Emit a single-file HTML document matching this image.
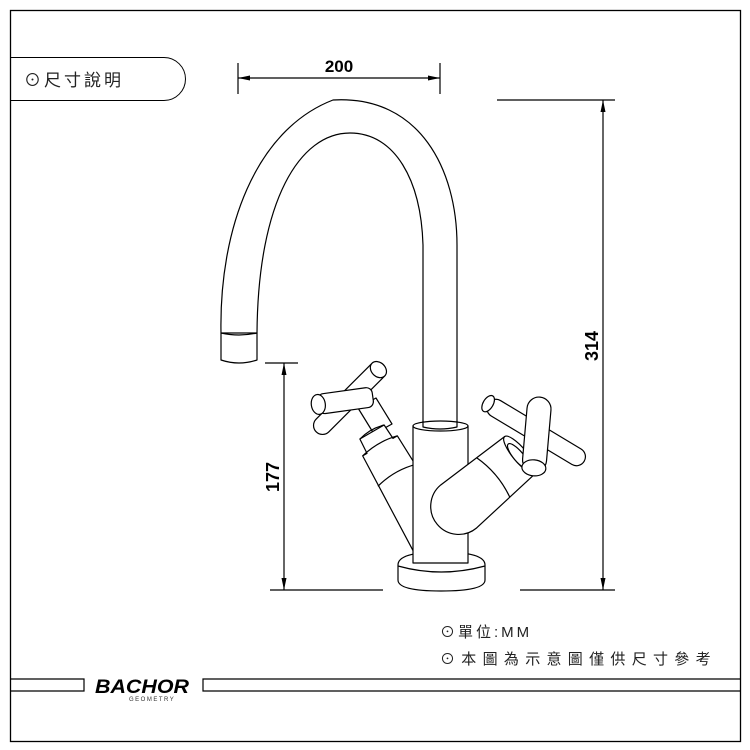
<!DOCTYPE html>
<html><head><meta charset="utf-8"><style>
body{margin:0;background:#fff;}
svg{display:block;}
text{font-family:"Liberation Sans","Noto Sans CJK TC",sans-serif;}
</style></head><body>
<svg width="750" height="750" viewBox="0 0 750 750" xmlns="http://www.w3.org/2000/svg">
<rect x="0" y="0" width="750" height="750" fill="#fff"/>
<rect x="10.5" y="10.5" width="730" height="731" fill="none" stroke="#000" stroke-width="1.3"/>
<path d="M10.5 57.5 H164 A21.5 21.5 0 0 1 164 100.5 H10.5" fill="none" stroke="#000" stroke-width="1"/>
<text x="24" y="86" font-size="17" fill="#222" letter-spacing="3">⊙尺寸說明</text>
<g stroke="#000" stroke-width="1.2" fill="none">
<line x1="238" y1="63" x2="238" y2="94"/>
<line x1="440" y1="63" x2="440" y2="94"/>
<line x1="238" y1="78" x2="440" y2="78"/>
</g>
<path d="M238 78 l12 -2.5 v5z M440 78 l-12 -2.5 v5z" fill="#000"/>
<text x="339" y="72" font-size="17" font-weight="bold" text-anchor="middle">200</text>
<g stroke="#000" stroke-width="1.2" fill="none">
<line x1="497" y1="100" x2="615" y2="100"/>
<line x1="520" y1="590" x2="615" y2="590"/>
<line x1="603" y1="100" x2="603" y2="590"/>
<line x1="265" y1="363" x2="298" y2="363"/>
<line x1="270" y1="590" x2="383" y2="590"/>
<line x1="284" y1="363" x2="284" y2="590"/>
</g>
<path d="M603 100 l-2.5 12 h5z M603 590 l-2.5 -12 h5z M284 363 l-2.5 12 h5z M284 590 l-2.5 -12 h5z" fill="#000"/>
<text transform="translate(598,346) rotate(-90)" font-size="18" font-weight="bold" text-anchor="middle">314</text>
<text transform="translate(279,477) rotate(-90)" font-size="18" font-weight="bold" text-anchor="middle">177</text>
<g stroke="#000" stroke-width="1.2" fill="#fff" stroke-linejoin="round">
<path d="M221 333 C219 230 255 130 333 100 C420 95 457 170 457 245 L457 425 L423 425 L423 245 C421 180 395 133 350 133 C300 133 258 200 257 333 Z"/>
<path d="M221 333 Q239 337 257 333 L257 360 Q239 366 221 360 Z"/>
<path d="M398 565 Q398 552 441 552 Q485 552 485 565 L485 580 Q485 591 441 591 Q398 591 398 580 Z"/>
<path d="M398 566 Q441 578 485 566" fill="none"/>
<path d="M358 408 L376 398 L392 424 L374 434 Z"/>
<g transform="translate(372,432) rotate(60)">
<path d="M0 -14 L16 -15 L16 -20 L130 -24 L130 24 L16 20 L16 15 L0 14 Z"/>
<path d="M0 -14 Q-4 0 0 14" fill="none"/>
<path d="M16 -20 Q11 0 16 20" fill="none"/>
<path d="M50 -22 Q44 0 50 22" fill="none"/>
</g>
<rect x="413" y="426" width="55" height="137"/>
<ellipse cx="440.5" cy="426" rx="27.5" ry="5"/>
<path d="M423 421 L423 427 Q440 431 457 427 L457 421" fill="none"/>
<g transform="translate(348,400) rotate(-45)">
<rect x="-45" y="-9" width="95" height="18" rx="9"/>
<ellipse cx="43" cy="0" rx="7" ry="9"/>
</g>
<g transform="translate(350,400) rotate(-8)">
<rect x="-32" y="-10" width="55" height="20" rx="6"/>
<ellipse cx="-32" cy="0" rx="7" ry="10"/>
</g>
<g transform="translate(520,455) rotate(140)">
<path d="M0 -24 L80 -28 A28 28 0 0 1 80 28 L0 24 Z"/>
<path d="M35 -26 Q28 0 35 26" fill="none"/>
<ellipse cx="0" cy="0" rx="7" ry="24"/>
<ellipse cx="2" cy="0" rx="5" ry="16"/>
</g>
<g transform="translate(537,433) rotate(31)">
<rect x="-57" y="-9" width="112" height="18" rx="9"/>
<ellipse cx="-57" cy="0" rx="5" ry="9"/>
</g>
<g transform="translate(537,432) rotate(95)">
<rect x="-35" y="-12" width="75" height="24" rx="12"/>
<ellipse cx="36" cy="0" rx="8" ry="12"/>
</g>
</g>
<text x="440" y="637" font-size="15" fill="#222" letter-spacing="3">⊙單位:MM</text>
<text x="440" y="664" font-size="15" fill="#222" letter-spacing="6.3">⊙本圖為示意圖僅供尺寸參考</text>
<g stroke="#000" stroke-width="1.2" fill="none">
<path d="M10 679 H84 V691 H10"/>
<path d="M740 679 H203 V691 H740"/>
</g>
<text x="95" y="693" font-size="19" font-weight="bold" font-style="italic" textLength="94" lengthAdjust="spacingAndGlyphs">BACHOR</text>
<text x="129" y="701" font-size="6" fill="#333" letter-spacing="1.5">GEOMETRY</text>
</svg>
</body></html>
